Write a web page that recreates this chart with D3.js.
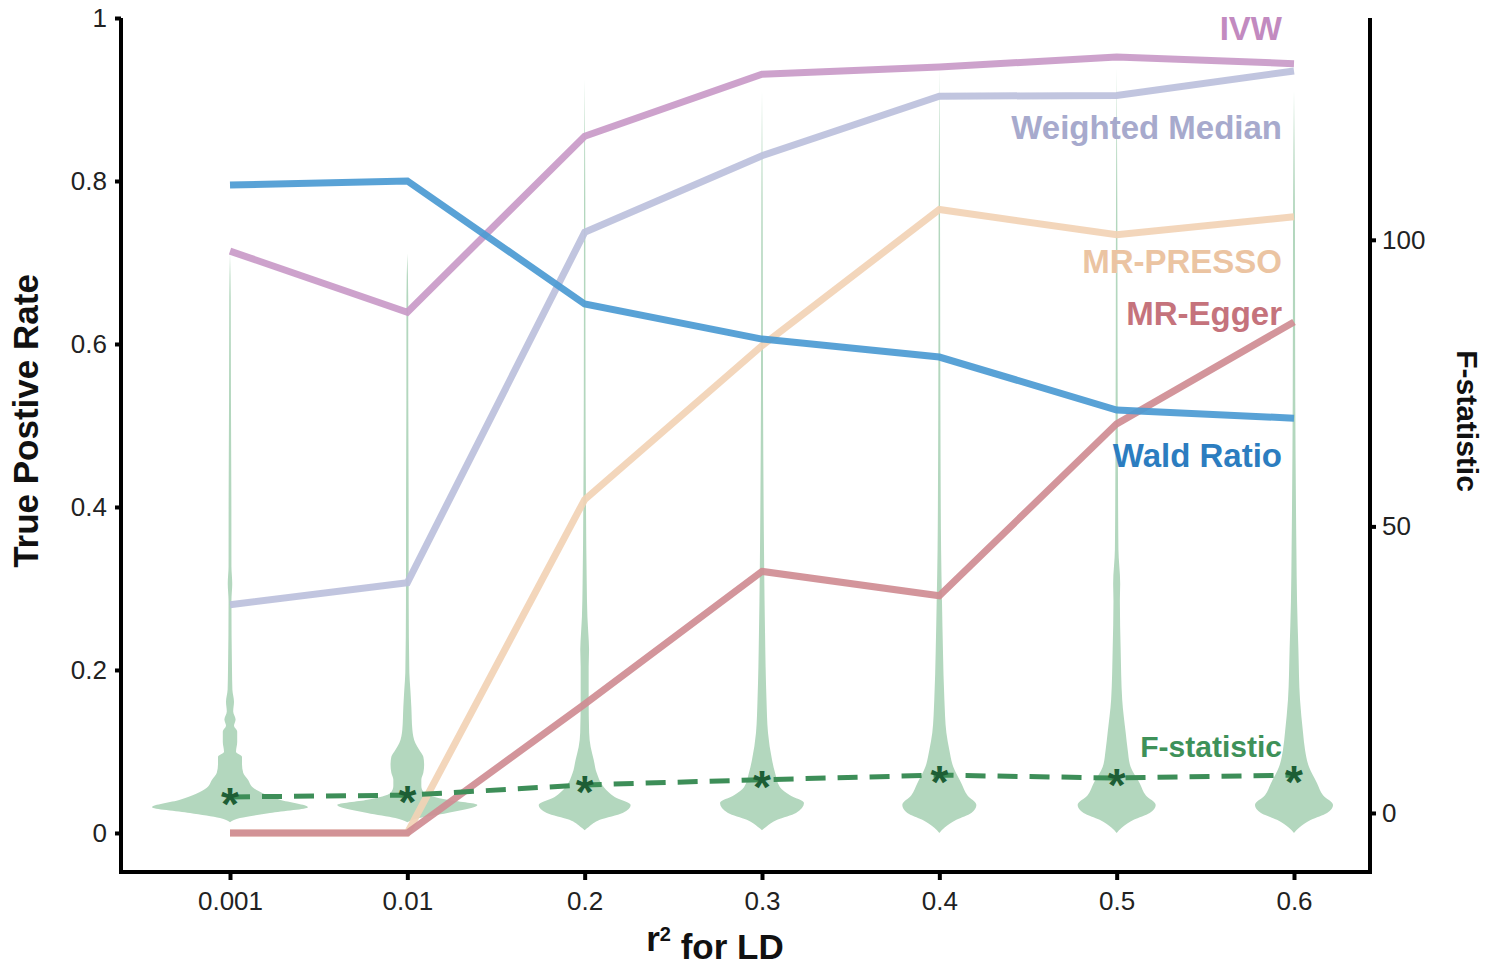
<!DOCTYPE html>
<html>
<head>
<meta charset="utf-8">
<script src="https://cdn.jsdelivr.net/npm/d3@7"></script>
<style>
body { margin: 0; background: #fff; }
svg { display: block; font-family: 'Liberation Sans', Arial, sans-serif; }
</style>
</head>
<body>
<svg id="chart"></svg>
<script>
// x categories (r2 threshold for LD clumping)
const categories = ['0.001', '0.01', '0.2', '0.3', '0.4', '0.5', '0.6'];

// true positive rate per method
const waldRatio = [0.795, 0.800, 0.649, 0.606, 0.584, 0.519, 0.509];
const ivw = [0.714, 0.639, 0.855, 0.931, 0.940, 0.952, 0.944];
const weightedMedian = [0.280, 0.307, 0.737, 0.831, 0.904, 0.905, 0.935];
const mrPresso = [0, 0, 0.409, 0.598, 0.765, 0.734, 0.756];
const mrEgger = [0, 0, 0.158, 0.321, 0.291, 0.502, 0.627];

// mean F-statistic (stars)
const fMean = [2.8, 3.1, 4.9, 5.8, 6.6, 6.1, 6.6];

// violin outlines: [F value, relative half width]
const violin0001 = [[-1.6,0],[-0.9,0.125],[0,0.5],[1.0,0.975],[2.3,0.625],[4.4,0.29],[5.8,0.225],[7.0,0.165],[8.5,0.15],[9.8,0.15],[10.7,0.075],[12.4,0.09],[14.2,0.09],[15.2,0.05],[16.3,0.07],[17.7,0.04],[19.4,0.05],[21.5,0.03],[25,0.025],[37,0.018],[40,0.028],[43,0.018],[55,0.017],[72,0.012],[90,0.009],[97.6,0]];
const violin001 = [[-1.6,0],[-0.9,0.15],[0,0.5],[1.4,0.875],[2.3,0.5],[3.5,0.21],[4.7,0.175],[5.8,0.175],[7.0,0.2],[8.4,0.21],[9.8,0.2],[11,0.15],[12.2,0.1],[14.5,0.063],[18.5,0.05],[21.5,0.038],[24.5,0.025],[37,0.017],[55,0.016],[72,0.012],[90,0.011],[97.6,0]];
const violin02 = [[-3,0],[-2.45,0.05],[-1.2,0.19],[0,0.475],[1.4,0.575],[2.8,0.375],[4.5,0.24],[7,0.15],[9.3,0.113],[11.5,0.075],[14,0.056],[19.8,0.05],[25.5,0.05],[28.5,0.055],[31.5,0.045],[34.3,0.034],[40,0.026],[55,0.016],[72,0.011],[107,0.008],[128,0]];
const violin03 = [[-3,0],[-2.45,0.05],[-1.2,0.19],[0,0.425],[1.75,0.525],[3.1,0.35],[4.5,0.225],[7,0.163],[9.3,0.125],[14,0.075],[19.8,0.056],[25.5,0.045],[31.5,0.038],[37,0.032],[46,0.025],[72,0.013],[107,0.008],[126,0]];
const violin04 = [[-3.5,0],[-2.6,0.063],[-1.2,0.213],[0,0.4],[1.4,0.463],[3.1,0.35],[5.2,0.275],[8,0.175],[11,0.125],[14,0.088],[19.8,0.063],[28.5,0.045],[37,0.033],[46,0.022],[72,0.013],[107,0.008],[130,0]];
const violin05 = [[-3.5,0],[-2.6,0.063],[-1.2,0.213],[0,0.413],[1.4,0.488],[3.1,0.363],[5.2,0.288],[8,0.175],[11,0.138],[14,0.113],[19.8,0.069],[28.5,0.05],[37,0.04],[40,0.044],[46,0.022],[72,0.013],[107,0.008],[130,0]];
const violin06 = [[-3.5,0],[-2.6,0.063],[-1.2,0.213],[0,0.413],[1.4,0.488],[3.1,0.363],[5.2,0.288],[8,0.188],[11,0.138],[14,0.113],[19.8,0.075],[28.5,0.055],[37,0.038],[46,0.03],[72,0.016],[107,0.011],[126,0]];
const violins = [violin0001, violin001, violin02, violin03, violin04, violin05, violin06];

const leftTicks = [0, 0.2, 0.4, 0.6, 0.8, 1];
const rightTicks = [0, 50, 100];

const W = 1510, H = 968;
const frame = {left: 121, right: 1370, top: 18, bottom: 872};

const svg = d3.select('#chart')
.attr('width', W)
.attr('height', H);

svg.append('rect').attr('width', W).attr('height', H).attr('fill', '#fff');

const x = d3.scalePoint()
.domain(categories)
.range([frame.left + 109, frame.right - 76]);

const yL = d3.scaleLinear()
.domain([-0.0479, 1])
.range([frame.bottom, frame.top]);

const yR = d3.scaleLinear()
.domain([-10.3, 138.7])
.range([frame.bottom, frame.top]);

const halfWidth = d3.scaleLinear().domain([0, 1]).range([0, 80]);

// violins
const violinArea = d3.area()
.y(d => yR(d[0]))
.curve(d3.curveMonotoneY);

categories.forEach((c, i) => {
  const cx = x(c);
  svg.append('path')
  .datum(violins[i])
  .attr('d', violinArea.x0(d => cx - halfWidth(d[1])).x1(d => cx + halfWidth(d[1])))
  .attr('fill', '#b3d7be');
});

// method lines
const methods = [
  {name: 'IVW', values: ivw, color: '#c99ac8', label: '#c28ac0', ly: 40},
  {name: 'Weighted Median', values: weightedMedian, color: '#bcc0dc', label: '#a7aacd', ly: 139},
  {name: 'MR-PRESSO', values: mrPresso, color: '#f2d2b5', label: '#ebc4a2', ly: 273},
  {name: 'MR-Egger', values: mrEgger, color: '#cf8c92', label: '#c5737c', ly: 325},
  {name: 'Wald Ratio', values: waldRatio, color: '#4b9ad2', label: '#2c7dc0', ly: 467}
];

const lineGen = d3.line()
.x((d, i) => x(categories[i]))
.y(d => yL(d));

methods.forEach(m => {
  svg.append('path')
  .datum(m.values)
  .attr('d', lineGen)
  .attr('fill', 'none')
  .attr('stroke', m.color)
  .attr('stroke-width', 7)
  .attr('opacity', 0.92);
});

// F-statistic dashed line + stars
svg.append('path')
.datum(fMean)
.attr('d', d3.line().x((d, i) => x(categories[i])).y(d => yR(d)))
.attr('fill', 'none')
.attr('stroke', '#3d8e58')
.attr('stroke-width', 5)
.attr('stroke-dasharray', '20,12');

svg.selectAll('text.star')
.data(fMean)
.enter()
.append('text')
.attr('class', 'star')
.attr('x', (d, i) => x(categories[i]))
.attr('y', d => yR(d))
.attr('dy', '0.5em')
.attr('text-anchor', 'middle')
.style('font-size', '46px')
.style('font-weight', 'bold')
.style('fill', '#1d5e35')
.text('*');

// series labels
const labelX = 1282;
methods.forEach(m => {
  svg.append('text')
  .attr('x', labelX).attr('y', m.ly)
  .attr('text-anchor', 'end')
  .style('font-size', '33px')
  .style('font-weight', 'bold')
  .style('fill', m.label)
  .text(m.name);
});
svg.append('text')
.attr('x', labelX).attr('y', 757)
.attr('text-anchor', 'end')
.style('font-size', '30px')
.style('font-weight', 'bold')
.style('fill', '#3e9159')
.text('F-statistic');

// axes
function styleAxis(g) {
  g.select('.domain').remove();
  g.selectAll('.tick line').attr('stroke', '#000').attr('stroke-width', 4);
  g.selectAll('.tick text')
  .attr('fill', '#222')
  .style('font-size', '26px')
  .style('font-family', "'Liberation Sans', Arial, sans-serif");
}

svg.append('g')
.attr('transform', `translate(${frame.left}, 0)`)
.call(d3.axisLeft(yL).tickValues(leftTicks).tickFormat(d => String(d)).tickSize(6).tickPadding(8))
.call(styleAxis);

svg.append('g')
.attr('transform', `translate(${frame.right}, 0)`)
.call(d3.axisRight(yR).tickValues(rightTicks).tickSize(6).tickPadding(6))
.call(styleAxis);

svg.append('g')
.attr('transform', `translate(0, ${frame.bottom})`)
.call(d3.axisBottom(x).tickSize(8).tickPadding(12))
.call(styleAxis);

// frame lines
svg.append('line')
.attr('x1', frame.left).attr('x2', frame.left)
.attr('y1', frame.top).attr('y2', frame.bottom + 2)
.attr('stroke', '#000').attr('stroke-width', 4);
svg.append('line')
.attr('x1', frame.right).attr('x2', frame.right)
.attr('y1', frame.top).attr('y2', frame.bottom + 2)
.attr('stroke', '#000').attr('stroke-width', 4);
svg.append('line')
.attr('x1', frame.left - 2).attr('x2', frame.right + 2)
.attr('y1', frame.bottom).attr('y2', frame.bottom)
.attr('stroke', '#000').attr('stroke-width', 4);

// axis titles
svg.append('text')
.attr('transform', 'translate(38, 421) rotate(-90)')
.attr('text-anchor', 'middle')
.style('font-size', '35px')
.style('font-weight', 'bold')
.style('fill', '#111')
.text('True Postive Rate');

svg.append('text')
.attr('transform', 'translate(1457, 421) rotate(90)')
.attr('text-anchor', 'middle')
.style('font-size', '30px')
.style('font-weight', 'bold')
.style('fill', '#111')
.text('F-statistic');

const xTitle = svg.append('text')
.attr('x', 715).attr('y', 951)
.attr('text-anchor', 'middle')
.style('font-size', '35px')
.style('font-weight', 'bold')
.style('fill', '#111');
xTitle.append('tspan').text('r');
xTitle.append('tspan').attr('dy', '-0.5em').style('font-size', '20px').text('2');
xTitle.append('tspan').attr('dy', '0.5em').text(' for LD');
</script>
</body>
</html>
